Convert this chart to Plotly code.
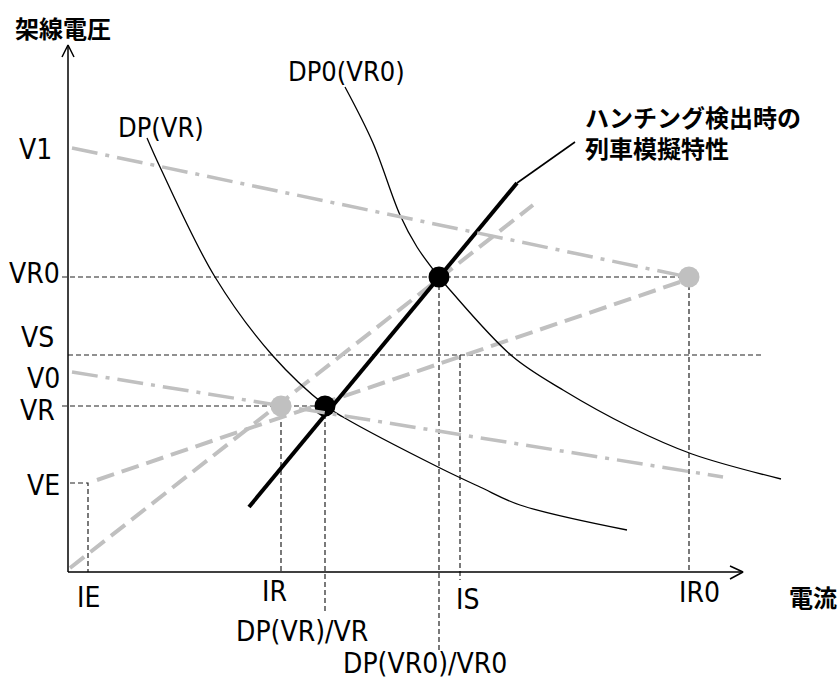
import plotly.graph_objects as go

# ---- levels (arbitrary units: current -> x, voltage -> y) ----
volt_names = ["V1", "VR0", "VS", "V0", "VR", "VE"]
volt_levels = [424, 295, 217, 200, 166, 89]

curr_names = ["IE", "IR", "DP(VR)/VR", "DP(VR0)/VR0", "IS", "IR0"]
curr_levels = [20, 213, 257, 371, 392, 621]

# constant-power characteristic DP(VR)
dp_vr_i = [79, 92, 147, 205, 258, 275, 372, 412, 452, 559]
dp_vr_v = [434, 405, 295, 216, 166, 155, 104, 85, 67, 42]

# constant-power characteristic DP0(VR0)
dp0_i = [277, 305, 332, 349, 371, 382, 444, 495, 562, 624, 713]
dp0_v = [485, 429, 357, 325, 295, 282, 216, 182, 145, 118, 93]

# simulated train characteristic at hunting detection
train_i = [181, 449]
train_v = [65, 389]
leader_i = [449, 507]
leader_v = [389, 430]

# supply-side load lines
load1_i = [2, 465]
load1_v = [4, 367]
load2_i = [29, 612]
load2_v = [92, 290]
supply1_i = [4, 620]
supply1_v = [424, 295]
supply2_i = [4, 655]
supply2_v = [200, 95]

# axis extents
i_axis_end = 675
v_axis_end = 527

V = dict(zip(volt_names, volt_levels))
I = dict(zip(curr_names, curr_levels))

BLACK = "#000000"
GREY = "#c0c0c0"
GUIDE = "#222222"

fig = go.Figure()


def line(xs, ys, color, width, dash="solid", shape="linear"):
    fig.add_trace(go.Scatter(
        x=xs, y=ys, mode="lines", hoverinfo="skip", showlegend=False,
        line=dict(color=color, width=width, dash=dash, shape=shape),
    ))


# dashed guide lines
guide_dash = "5px,3px"
line([-6, I["IR0"]], [V["VR0"], V["VR0"]], GUIDE, 1.2, guide_dash)
line([0, 694], [V["VS"], V["VS"]], GUIDE, 1.2, guide_dash)
line([-6, I["DP(VR)/VR"]], [V["VR"], V["VR"]], GUIDE, 1.2, guide_dash)
line([2, I["IE"], I["IE"]], [V["VE"], V["VE"], 0], GUIDE, 1.2, guide_dash)
line([I["IR"], I["IR"]], [V["VR"], 0], GUIDE, 1.2, guide_dash)
line([I["DP(VR)/VR"], I["DP(VR)/VR"]], [V["VR"], -41], GUIDE, 1.2, guide_dash)
line([I["DP(VR0)/VR0"], I["DP(VR0)/VR0"]], [V["VR0"], -78], GUIDE, 1.2, guide_dash)
line([I["IS"], I["IS"]], [V["VS"], -8], GUIDE, 1.2, guide_dash)
line([I["IR0"], I["IR0"]], [V["VR0"], 0], GUIDE, 1.2, guide_dash)

# grey dashed load lines
line(load1_i, load1_v, GREY, 4, "18px,8px")
line(load2_i, load2_v, GREY, 4, "18px,8px")

# power curves
line(dp_vr_i, dp_vr_v, BLACK, 1.3, shape="spline")
line(dp0_i, dp0_v, BLACK, 1.3, shape="spline")

# train characteristic and its leader
line(train_i, train_v, BLACK, 4)
line(leader_i, leader_v, BLACK, 1.6)

# operating points
fig.add_trace(go.Scatter(
    x=[I["DP(VR)/VR"], I["DP(VR0)/VR0"]], y=[V["VR"], V["VR0"]],
    mode="markers", hoverinfo="skip", showlegend=False,
    marker=dict(size=21, color=BLACK),
))

# grey dash-dot supply lines
line(supply1_i, supply1_v, GREY, 3.5, "26px,8px,4px,8px")
line(supply2_i, supply2_v, GREY, 3.5, "26px,8px,4px,8px")

fig.add_trace(go.Scatter(
    x=[I["IR"], I["IR0"]], y=[V["VR"], V["VR0"]],
    mode="markers", hoverinfo="skip", showlegend=False,
    marker=dict(size=21, color=GREY),
))

# axes with open arrowheads
line([0, 0], [0, v_axis_end], BLACK, 1.5)
line([-6, 0, 6], [v_axis_end - 12, v_axis_end, v_axis_end - 12], BLACK, 1.5)
line([0, i_axis_end], [0, 0], BLACK, 1.5)
line([i_axis_end - 13, i_axis_end, i_axis_end - 13], [6, 0, -7], BLACK, 1.5)

LATIN = "Liberation Sans Narrow, DejaVu Sans Condensed, Noto Sans Mono CJK JP, sans-serif"
CJK = "Noto Sans CJK JP"

# voltage labels
volt_label_x = [-33, -34, -31, -25, -31, -25]
volt_label_dy = [-1, 4, 18, -6, -4, -2]
for name, lv, lx, dy in zip(volt_names, volt_levels, volt_label_x, volt_label_dy):
    fig.add_annotation(x=lx, y=lv + dy, text=name, showarrow=False,
                       xanchor="center", yanchor="middle",
                       font=dict(family=LATIN, size=28, color=BLACK))

# current labels
curr_label_dx = [0, -7, -23, -14, 7, 10]
curr_label_y = [-25, -19, -59, -91, -27, -20]
for name, cv, dx, ly in zip(curr_names, curr_levels, curr_label_dx, curr_label_y):
    fig.add_annotation(x=cv + dx, y=ly, text=name, showarrow=False,
                       xanchor="center", yanchor="middle",
                       font=dict(family=LATIN, size=28, color=BLACK))

# curve labels
fig.add_annotation(x=93, y=445, text="DP(VR)", showarrow=False,
                   xanchor="center", yanchor="middle",
                   font=dict(family=LATIN, size=27, color=BLACK))
fig.add_annotation(x=278, y=501, text="DP0(VR0)", showarrow=False,
                   xanchor="center", yanchor="middle",
                   font=dict(family=LATIN, size=27, color=BLACK))
fig.add_annotation(x=515, y=440, text="<b>ハンチング検出時の<br>列車模擬特性</b>",
                   showarrow=False, xanchor="left", yanchor="middle", align="left",
                   font=dict(family=CJK, size=24, color=BLACK))

# axis titles
fig.add_annotation(x=-55, y=545, text="<b>架線電圧</b>", showarrow=False,
                   xanchor="left", yanchor="middle",
                   font=dict(family=CJK, size=24, color=BLACK))
fig.add_annotation(x=719, y=-24, text="<b>電流</b>", showarrow=False,
                   xanchor="left", yanchor="middle",
                   font=dict(family=CJK, size=24, color=BLACK))

fig.update_layout(
    width=838, height=680,
    margin=dict(l=0, r=0, t=0, b=0),
    paper_bgcolor="white", plot_bgcolor="white",
    xaxis=dict(range=[-68, 770], visible=False, fixedrange=True),
    yaxis=dict(range=[-108, 572], visible=False, fixedrange=True),
    showlegend=False,
)

fig.write_html("out.html")
